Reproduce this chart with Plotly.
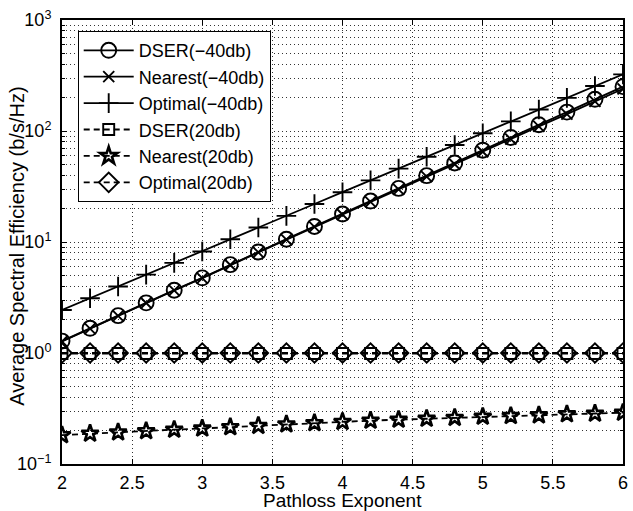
import plotly.graph_objects as go

x_vals = [2.0, 2.2, 2.4, 2.6, 2.8, 3.0, 3.2, 3.4, 3.6, 3.8, 4.0,
          4.2, 4.4, 4.6, 4.8, 5.0, 5.2, 5.4, 5.6, 5.8, 6.0]

dser_m40 = [1.28, 1.67, 2.17, 2.83, 3.68, 4.75, 6.25, 8.13, 10.6, 13.8, 17.9,
            23.4, 30.4, 39.6, 51.5, 67.1, 87.5, 114, 148, 193, 251]
nearest_m40 = [1.27, 1.66, 2.16, 2.82, 3.66, 4.73, 6.21, 8.07, 10.5, 13.7, 17.7,
               23.0, 29.8, 38.8, 50.2, 65.0, 84.5, 110, 142, 185, 240]
optimal_m40 = [2.44, 3.11, 3.97, 5.08, 6.49, 8.20, 10.6, 13.5, 17.2, 22.0, 28.1,
               35.9, 45.8, 58.6, 74.8, 95.5, 122, 156, 199, 254, 324]
dser_20 = [0.99, 0.99, 0.99, 0.99, 0.99, 0.99, 0.99, 0.99, 0.99, 0.99, 0.99,
           0.99, 0.99, 0.99, 0.99, 0.99, 0.99, 0.99, 0.99, 0.99, 0.99]
nearest_20 = [0.182, 0.188, 0.193, 0.198, 0.204, 0.209, 0.215, 0.221, 0.228, 0.234, 0.240,
              0.246, 0.251, 0.256, 0.261, 0.267, 0.271, 0.275, 0.281, 0.285, 0.290]
optimal_20 = [1.0, 1.0, 1.0, 1.0, 1.0, 1.0, 1.0, 1.0, 1.0, 1.0, 1.0,
              1.0, 1.0, 1.0, 1.0, 1.0, 1.0, 1.0, 1.0, 1.0, 1.0]

names = ["DSER(\u221240db)", "Nearest(\u221240db)", "Optimal(\u221240db)",
         "DSER(20db)", "Nearest(20db)", "Optimal(20db)"]

y_tickvals = [0.1, 1, 10, 100, 1000]
y_ticktext = ["10<sup>\u22121</sup>", "10<sup>0</sup>", "10<sup>1</sup>",
              "10<sup>2</sup>", "10<sup>3</sup>"]
x_tickvals = [2, 2.5, 3, 3.5, 4, 4.5, 5, 5.5, 6]
x_ticktext = ["2", "2.5", "3", "3.5", "4", "4.5", "5", "5.5", "6"]

FONT = "Liberation Sans, Arial, Helvetica, sans-serif"
DASH = "6px,4px"

series = [
    (names[0], dser_m40, "circle-open", 15, "solid"),
    (names[1], nearest_m40, "x-thin-open", 11, "solid"),
    (names[2], optimal_m40, "cross-thin-open", 14, "solid"),
    (names[3], dser_20, "square-open", 11, "dash"),
    (names[4], nearest_20, "star-open", 13, "dash"),
    (names[5], optimal_20, "diamond-open", 15, "dash"),
]

fig = go.Figure()
for name, ys, sym, size, ls in series:
    fig.add_trace(go.Scatter(
        x=x_vals, y=ys, name=name, mode="lines+markers",
        line=dict(color="black", width=1.8, dash=DASH if ls == "dash" else "solid"),
        marker=dict(symbol=sym, size=size, color="black",
                    line=dict(color="black", width=2.6 if sym == "star-open" else 1.9)),
    ))

grid_dash = "1px,3px"
grid_col = "#333333"

fig.update_layout(
    width=633, height=511,
    margin=dict(l=62, r=5, t=20, b=47),
    paper_bgcolor="white", plot_bgcolor="white",
    font=dict(family=FONT, size=18, color="black"),
    showlegend=True,
    legend=dict(x=0.028, y=0.975, xanchor="left", yanchor="top",
                bgcolor="white", bordercolor="black", borderwidth=1,
                font=dict(size=18), tracegroupgap=0, itemwidth=50),
    xaxis=dict(range=[2, 6], tickvals=x_tickvals, ticktext=x_ticktext,
               showline=True, linecolor="black", linewidth=2, mirror="allticks",
               ticks="inside", ticklen=5, tickwidth=1, tickcolor="black",
               showgrid=True, gridcolor=grid_col, griddash=grid_dash, gridwidth=1,
               zeroline=False, tickfont=dict(size=18), ticklabelstandoff=1),
    yaxis=dict(type="log", range=[-1, 3], tickvals=y_tickvals, ticktext=y_ticktext,
               showline=True, linecolor="black", linewidth=2, mirror="allticks",
               ticks="inside", ticklen=5, tickwidth=1, tickcolor="black",
               showgrid=True, gridcolor=grid_col, griddash=grid_dash, gridwidth=1,
               zeroline=False, tickfont=dict(size=18), ticklabelstandoff=5,
               minor=dict(dtick="D1", showgrid=True, gridcolor=grid_col,
                          griddash=grid_dash, gridwidth=1,
                          ticks="inside", ticklen=3, tickcolor="black")),
    annotations=[
        dict(text="Pathloss Exponent", xref="paper", yref="paper",
             x=0.5, y=-0.0815, xanchor="center", yanchor="middle",
             showarrow=False, font=dict(size=19)),
        dict(text="Average Spectral Efficiency (b/s/Hz)", xref="paper", yref="paper",
             x=-0.0795, y=0.49, xanchor="center", yanchor="middle", textangle=-90,
             showarrow=False, font=dict(size=20)),
    ],
)

fig.write_html("out.html")
